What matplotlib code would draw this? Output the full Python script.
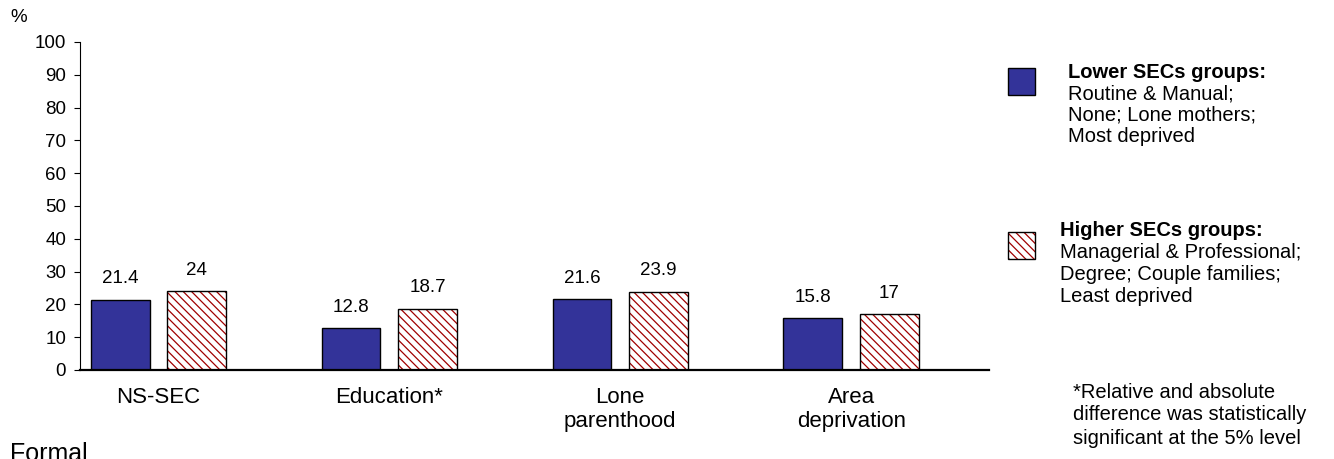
import numpy as np
import matplotlib.pyplot as plt
from matplotlib.patches import Rectangle

plt.rcParams['font.family'] = ['Liberation Sans', 'DejaVu Sans']
plt.rcParams['hatch.linewidth'] = 0.9

# --- DATA ---
categories = ['NS-SEC', 'Education*', 'Lone\nparenthood', 'Area\ndeprivation']
lower_vals = [21.4, 12.8, 21.6, 15.8]
higher_vals = [24, 18.7, 23.9, 17]
yticks = list(range(0, 101, 10))

lower_legend = ['Lower SECs groups:', 'Routine & Manual;', 'None; Lone mothers;', 'Most deprived']
higher_legend = ['Higher SECs groups:', 'Managerial & Professional;',
                 'Degree; Couple families;', 'Least deprived']
footnote = ['*Relative and absolute', 'difference was statistically',
            'significant at the 5% level']

BLUE = '#333399'
RED = '#A00000'
HATCH = '\\\\\\\\'
W, H = 1334, 459


def fx(px):
    return px / W


def fy(py):
    return 1 - py / H


fig = plt.figure(figsize=(W / 100, H / 100), dpi=100)
ax = fig.add_axes([fx(80), 89 / H, (989 - 80) / W, 328 / H])

x = np.arange(len(categories))
bw = 0.255
off = 0.166

ax.bar(x - off, lower_vals, bw, color=BLUE, edgecolor='black', linewidth=1.0, zorder=2)
# hatched bars: hatch drawn in red, outline drawn separately in black
ax.bar(x + off, higher_vals, bw, color='white', edgecolor=RED, hatch=HATCH,
       linewidth=0, zorder=2)
ax.bar(x + off, higher_vals, bw, fill=False, edgecolor='black', linewidth=1.0, zorder=3)

for xi, v in zip(x - off, lower_vals):
    ax.annotate(f'{v:g}', (xi, v), xytext=(0, 9), textcoords='offset points',
                ha='center', va='bottom', fontsize=13.5)
for xi, v in zip(x + off, higher_vals):
    ax.annotate(f'{v:g}', (xi, v), xytext=(0, 9), textcoords='offset points',
                ha='center', va='bottom', fontsize=13.5)

ax.set_xlim(-0.34, 3.597)
ax.set_ylim(0, 100)
ax.set_yticks(yticks)
ax.tick_params(axis='y', labelsize=13.5, length=4, width=0.8, pad=6, direction='out')
ax.set_xticks(x)
ax.set_xticklabels(categories, fontsize=16, linespacing=1.15)
ax.tick_params(axis='x', length=0, pad=12.5)

for s in ['top', 'right']:
    ax.spines[s].set_visible(False)
ax.spines['left'].set_linewidth(0.8)
ax.spines['bottom'].set_linewidth(1.6)
ax.spines['bottom'].set_zorder(4)

fig.text(fx(10), fy(18), '%', fontsize=13.5, va='center', ha='left')
fig.text(fx(10), -2 / H, 'Formal', fontsize=18, va='baseline', ha='left')

# legend squares
sq = 27
fig.patches.append(Rectangle((fx(1008), fy(95)), sq / W, sq / H, transform=fig.transFigure,
                             facecolor=BLUE, edgecolor='black', linewidth=1.0))
fig.patches.append(Rectangle((fx(1008), fy(259)), sq / W, sq / H, transform=fig.transFigure,
                             facecolor='white', edgecolor=RED, hatch=HATCH, linewidth=0))
fig.patches.append(Rectangle((fx(1008), fy(259)), sq / W, sq / H, transform=fig.transFigure,
                             fill=False, edgecolor='black', linewidth=1.0))

for i, line in enumerate(lower_legend):
    fig.text(fx(1068), fy(73 + 21 * i), line, fontsize=14.5,
             va='center', ha='left', fontweight='bold' if i == 0 else 'normal')
for i, line in enumerate(higher_legend):
    fig.text(fx(1060), fy(231 + 22 * i), line, fontsize=14.5,
             va='center', ha='left', fontweight='bold' if i == 0 else 'normal')
for i, line in enumerate(footnote):
    fig.text(fx(1073), fy(392 + 23 * i), line, fontsize=14.5, va='center', ha='left')

fig.savefig('out.png', dpi=100)
